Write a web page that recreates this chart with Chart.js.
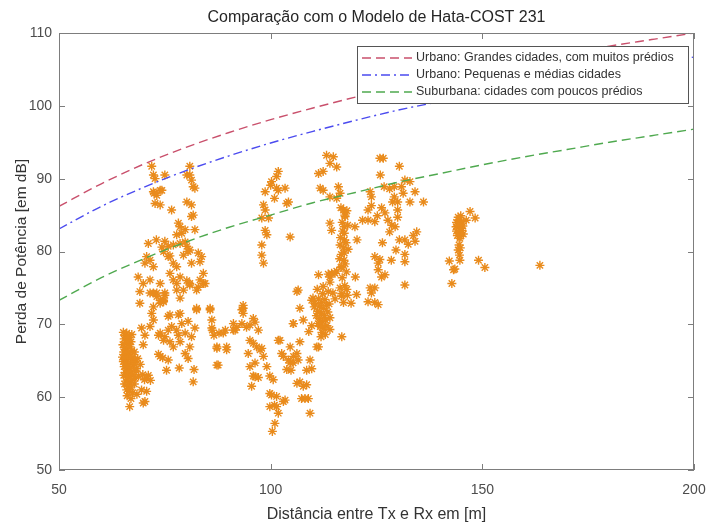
<!DOCTYPE html>
<html>
<head>
<meta charset="utf-8">
<script src="https://cdn.jsdelivr.net/npm/chart.js@4.4.1/dist/chart.umd.min.js"></script>
<style>
html,body{margin:0;padding:0;background:#fff;}
#wrap{width:706px;height:524px;position:relative;}
</style>
</head>
<body>
<div id="wrap"><canvas id="c" width="706" height="524"></canvas></div>
<script>
// ---- data ----
const xTicks = [50, 100, 150, 200];
const yTicks = [50, 60, 70, 80, 90, 100, 110];

const distModelo     = [50, 60, 70, 80, 90, 100, 110, 120, 130, 140, 150, 160, 170, 180, 190, 200];
const urbanoGrandes  = [86.2, 89.3, 92.0, 94.3, 96.3, 98.1, 99.7, 101.2, 102.6, 103.9, 105.0, 106.2, 107.2, 108.2, 109.1, 110.0];
const urbanoPequenas = [83.1, 86.2, 88.8, 91.1, 93.1, 94.9, 96.5, 98.0, 99.4, 100.6, 101.8, 102.9, 103.9, 104.9, 105.8, 106.7];
const suburbana      = [73.3, 76.4, 79.0, 81.3, 83.3, 85.0, 86.7, 88.1, 89.5, 90.7, 91.9, 93.0, 94.0, 95.0, 95.9, 96.8];

const labels = [
  'Urbano: Grandes cidades, com muitos prédios',
  'Urbano: Pequenas e médias cidades',
  'Suburbana: cidades com poucos prédios'
];

// measured points [distance m, loss dB]
const medidas = [
  // dense strip near 65-70 m
  [65.2,68.9],[65.6,68.5],[66.0,68.8],[65.4,68.0],[66.3,67.9],[65.8,67.5],[65.1,67.2],[66.5,67.3],[67.0,67.6],[65.5,66.8],
  [66.1,66.6],[66.8,66.9],[65.3,66.2],[65.9,65.9],[66.4,66.1],[67.2,66.4],[65.6,65.4],[66.2,65.2],[66.9,65.6],[65.2,64.9],
  [65.8,64.7],[66.5,64.5],[67.3,64.9],[65.4,64.2],[66.0,63.9],[66.7,64.0],[67.6,64.3],[65.7,63.4],[66.3,63.3],[67.0,63.5],
  [65.3,63.0],[66.0,62.7],[66.8,62.8],[67.5,63.1],[68.2,63.6],[65.8,62.2],[66.5,62.0],[67.2,62.3],[68.0,62.6],[68.8,62.9],
  [66.2,61.5],[67.0,61.4],[67.8,61.8],[66.6,60.8],[67.4,60.6],[66.1,60.2],[67.0,59.8],[66.7,58.7],[69.9,59.2],[68.4,60.4],
  [69.5,61.0],[66.0,61.0],[65.5,61.8],[67.5,65.5],[68.0,64.9],[68.6,65.3],[67.8,66.2],[66.6,68.2],[67.2,68.6],[65.0,65.5],
  [68.3,63.9],[69.2,64.5],[69.8,63.1],[70.2,62.4],[70.7,62.6],[70.7,60.8],[70.3,59.4],[71.1,63.0],[71.6,62.3],
  // upper-left mass 68-86 m
  [71.9,91.7],[72.3,90.5],[72.7,90.0],[75.0,90.5],[72.3,88.2],[73.1,87.7],[73.9,88.4],[72.7,86.6],[73.9,86.4],[76.6,85.7],
  [80.2,90.5],[80.9,90.5],[81.3,89.8],[81.7,88.9],[82.1,88.7],[80.9,91.7],[80.2,86.8],[81.3,86.4],[81.7,85.0],[81.3,84.8],
  [82.1,83.0],[78.2,83.9],[78.6,83.4],[79.8,83.0],[77.8,82.3],[79.0,82.5],[71.1,81.1],[70.7,79.3],[71.5,78.8],[70.3,78.4],
  [75.0,81.4],[75.8,80.7],[77.0,80.9],[78.6,81.1],[80.2,80.7],[80.9,80.2],[74.7,80.0],[75.8,79.3],[77.0,78.4],[77.8,77.9],
  [79.4,79.5],[81.3,78.4],[82.9,79.8],[83.7,79.3],[84.1,77.0],[82.9,75.1],[84.1,75.6],[68.7,76.5],[69.9,75.6],[69.1,74.5],
  [69.1,72.9],[71.5,76.1],[73.1,74.3],[73.9,73.3],[74.7,73.1],[71.9,71.5],[75.8,71.1],[78.2,71.3],[79.4,74.7],[80.9,75.6],
  [82.5,74.7],[82.5,72.2],[85.7,72.2],[93.5,72.2],[73.0,81.6],[76.2,77.0],[78.6,76.5],[72.3,77.9],[76.2,79.4],[83.3,78.6],
  [73.9,75.6],[77.8,75.6],[80.5,80.0],[79.8,81.3],[74.3,80.6],[74.3,88.4],[72.5,88.0],
  // middle band 69-92 m
  [69.9,67.2],[69.5,69.5],[73.5,68.5],[75.0,68.3],[73.9,65.6],[73.5,65.9],[74.5,65.4],[75.8,65.1],[75.4,63.7],[78.4,64.0],
  [81.9,63.8],[81.7,62.1],[87.3,64.4],[76.2,71.3],[72.3,74.3],[75.0,74.0],[77.0,76.1],[80.2,76.0],[83.3,76.1],[85.7,72.0],
  [86.1,70.6],[86.1,69.5],[88.8,68.8],[91.6,69.2],[87.3,66.7],[89.6,66.5],[87.6,64.4],[75.8,69.2],[76.6,69.7],[77.8,69.2],
  [79.0,70.1],[78.6,71.5],[80.5,70.4],[79.8,68.8],[81.3,68.3],[80.9,66.9],[79.8,66.0],[77.0,66.9],[78.6,67.6],[72.3,70.6],
  [71.5,69.7],[73.9,68.8],[74.7,67.8],[76.2,67.6],[78.2,68.5],[82.1,69.5],[82.5,72.0],[80.5,65.3],[70.3,68.5],[71.5,74.3],
  [73.1,73.8],[74.7,73.3],[73.9,72.9],[75.0,74.3],[72.3,72.4],[77.8,74.7],[80.9,75.4],[84.5,75.6],[78.6,73.6],
  // valley 86-110 m
  [86.2,69.2],[86.6,68.5],[87.8,68.8],[89.3,69.2],[91.2,69.2],[92.0,69.6],[93.2,70.1],[93.2,72.0],[93.5,71.5],[94.3,69.6],
  [95.1,69.9],[96.3,70.3],[97.1,69.2],[95.1,67.8],[95.9,67.4],[96.7,66.9],[97.5,66.5],[98.3,65.6],[99.1,64.2],[99.8,62.9],
  [100.6,62.4],[96.3,64.7],[95.1,64.2],[95.9,62.9],[97.1,62.7],[95.5,61.5],[102.2,67.8],[103.0,65.6],[104.6,66.9],[105.4,65.6],
  [106.2,66.0],[106.2,61.9],[103.8,63.8],[104.6,64.7],[99.8,60.5],[101.4,60.1],[103.0,59.4],[103.4,59.6],[99.8,58.7],[101.4,58.7],
  [101.8,57.8],[101.0,56.4],[100.4,55.3],[87.3,66.9],[89.6,66.9],[91.2,70.1],[105.4,70.1],[106.5,74.7],
  [93.5,72.6],[95.9,70.8],[94.7,66.0],[97.9,66.7],[96.3,62.8],
  [101.8,67.8],[102.6,66.0],[104.2,65.1],[105.3,64.7],[104.8,63.7],[106.5,65.1],[106.9,67.6],[108.5,63.7],[109.7,63.9],[109.3,65.1],
  [106.9,62.1],[107.7,61.5],[108.5,61.7],[107.3,59.8],[108.1,59.8],[108.9,59.8],[109.3,57.8],[100.2,60.3],[100.9,58.9],
  // column near 111-113 m
  [111.3,73.5],[112.0,73.0],[112.8,73.4],[111.6,72.5],[112.4,72.2],[113.2,72.6],[111.1,71.8],[111.9,71.5],[112.7,71.2],[113.5,71.7],
  [111.5,70.8],[112.2,70.4],[113.0,70.6],[111.8,69.9],[112.6,69.5],[113.3,69.8],[111.2,70.1],[112.1,68.9],[112.9,68.6],[110.4,72.9],
  [110.8,71.2],[114.0,70.9],[113.8,72.8],[110.0,73.6],[112.3,74.2],[111.0,74.8],[113.6,74.5],
  [111.3,76.8],[113.6,76.9],[115.6,77.3],[114.4,77.0],[106.2,74.5],[109.7,73.3],[110.3,72.4],[112.4,75.2],[114.0,75.8],
  [114.7,74.3],[116.4,75.0],[118.0,74.8],[115.2,73.5],[116.8,73.9],[106.9,72.2],[105.3,70.1],[107.7,70.6],[109.7,69.8],[111.7,69.7],
  [114.0,69.3],[111.9,68.3],[110.9,66.9],[116.8,68.3],[109.0,69.0],[111.3,66.9],
  // group near 97-105 m, 78-91 dB
  [101.8,91.0],[101.4,90.3],[100.2,89.6],[100.0,89.1],[98.7,88.2],[101.4,88.7],[101.8,88.4],[103.4,88.7],[100.9,87.3],[103.8,86.6],
  [98.3,86.4],[98.7,85.7],[99.5,84.6],[97.9,84.6],[98.7,82.9],[99.1,82.3],[104.6,82.0],[97.9,80.9],[97.9,79.5],[98.3,78.4],[104.2,86.8],
  // group near 111-118 m, 76-93 dB
  [113.2,93.2],[114.8,93.0],[114.0,92.1],[115.6,91.6],[111.3,90.7],[112.4,91.0],[111.7,88.7],[112.4,88.4],[116.0,88.9],[116.4,88.0],
  [114.0,87.5],[115.6,87.3],[117.2,85.7],[117.6,84.8],[117.4,83.4],[114.0,83.9],[114.4,82.9],[117.4,82.5],[117.4,81.6],[116.4,80.9],
  [117.2,80.5],[117.4,79.8],[116.8,77.9],[117.6,78.3],[115.2,77.0],[114.0,76.5],
  // group 116-137 m
  [125.8,92.8],[126.6,92.8],[130.4,91.7],[125.9,90.5],[131.7,89.8],[132.9,89.6],[130.9,88.9],[129.2,88.9],[128.1,88.6],[126.8,88.9],
  [123.5,88.2],[134.1,88.2],[131.3,88.0],[129.2,87.5],[130.0,86.8],[136.1,86.8],[132.9,86.8],[128.8,86.8],[123.8,87.5],[123.8,86.3],
  [123.0,85.7],[126.2,86.0],[127.0,85.3],[130.0,85.7],[125.2,84.9],[123.0,84.3],[121.7,84.3],[119.9,83.4],[124.6,84.1],[127.7,84.3],
  [130.0,84.7],[128.6,83.6],[129.4,83.4],
  [116.6,86.0],[117.5,85.0],[116.9,84.0],[118.2,83.6],[117.0,82.8],[116.5,81.9],[117.8,81.2],[118.3,80.3],[116.7,79.6],[117.3,78.8],
  [116.6,77.8],[117.9,77.2],[116.9,76.4],[117.5,75.3],[116.8,74.2],[118.1,74.0],[117.2,73.0],[119.0,72.9],[116.3,79.0],[118.0,85.6],
  [134.5,82.7],[133.7,82.2],[128.1,82.7],[120.4,81.6],[126.4,81.2],[130.4,81.6],[131.7,81.6],[132.5,81.0],[134.1,81.4],[129.6,80.2],
  [131.7,79.6],[124.6,79.3],[125.8,78.9],[125.4,78.4],[128.5,78.8],[131.7,78.6],[125.4,77.5],[126.2,76.5],[127.0,76.8],[120.0,76.5],
  [131.7,75.4],[124.6,75.0],[123.5,75.0],[123.8,74.3],[123.0,73.1],[124.6,73.0],[125.4,72.7],[120.3,74.1],
  // group near 142-151 m
  [143.9,84.0],[144.3,84.3],[144.7,83.9],[145.1,84.1],[143.8,83.4],[144.4,83.6],[145.0,83.2],[145.4,83.5],[143.9,82.8],[144.5,82.6],
  [145.2,82.9],[144.1,82.2],[144.8,82.1],[145.5,82.4],[144.3,84.7],[144.9,84.9],
  [147.1,85.5],[148.3,84.6],[146.2,84.3],[144.7,81.8],[144.5,80.9],[144.3,80.2],[144.8,80.5],[144.6,79.5],[144.7,78.8],[142.2,78.7],
  [143.2,77.5],[143.5,77.6],[149.1,78.8],[150.6,77.8],[142.8,75.6],[163.6,78.1]
];

// ---- styles ----
const F = "'Liberation Sans', Arial, Helvetica, sans-serif";
const lineStyles = [
  {color:'#c9506c', dash:[9,5]},
  {color:'#4b4bef', dash:[9,4,2,4]},
  {color:'#4fa94f', dash:[9,5]}
];

const curveSeries = [urbanoGrandes, urbanoPequenas, suburbana];

const lineDatasets = curveSeries.map((vals, k) => ({
  label: labels[k],
  data: distModelo.map((d, i) => ({x: d, y: vals[i]})),
  showLine: true,
  borderColor: lineStyles[k].color,
  borderWidth: 1.4,
  borderDash: lineStyles[k].dash,
  pointRadius: 0,
  cubicInterpolationMode: 'monotone',
  fill: false
}));

const scatterDataset = {
  label: 'Medidas',
  data: medidas.map(([x, y]) => ({x, y})),
  showLine: false,
  pointStyle: 'star',
  pointRadius: 4.5,
  pointBorderWidth: 1.4,
  pointBorderColor: '#e98b1c',
  pointBackgroundColor: '#e98b1c'
};

const framePlugin = {
  id: 'frame',
  afterDatasetsDraw(chart) {
    const {ctx, chartArea: a, scales: {x, y}} = chart;
    ctx.save();
    ctx.strokeStyle = '#7d7d7d';
    ctx.lineWidth = 1;
    ctx.strokeRect(Math.round(a.left) + 0.5, Math.round(a.top) + 0.5,
                   Math.round(a.right - a.left) - 1, Math.round(a.bottom - a.top) - 1);
    const tl = 6;
    ctx.beginPath();
    xTicks.forEach(v => {
      const p = Math.round(x.getPixelForValue(v)) + 0.5;
      ctx.moveTo(p, a.bottom); ctx.lineTo(p, a.bottom - tl);
      ctx.moveTo(p, a.top); ctx.lineTo(p, a.top + tl);
    });
    yTicks.forEach(v => {
      const p = Math.round(y.getPixelForValue(v)) + 0.5;
      ctx.moveTo(a.left, p); ctx.lineTo(a.left + tl, p);
      ctx.moveTo(a.right, p); ctx.lineTo(a.right - tl, p);
    });
    ctx.stroke();
    ctx.restore();
  }
};

const legendPlugin = {
  id: 'boxLegend',
  afterDraw(chart) {
    const {ctx} = chart;
    const bx = 357, by = 46, bw = 331, bh = 57;
    ctx.save();
    ctx.fillStyle = '#ffffff';
    ctx.fillRect(bx, by, bw, bh);
    ctx.strokeStyle = '#555';
    ctx.lineWidth = 1;
    ctx.strokeRect(bx + 0.5, by + 0.5, bw, bh);
    ctx.font = '12.5px ' + F;
    ctx.textBaseline = 'middle';
    ctx.textAlign = 'left';
    lineDatasets.forEach((ds, i) => {
      const yy = by + 12 + i * 17;
      ctx.strokeStyle = ds.borderColor;
      ctx.lineWidth = 1.4;
      ctx.setLineDash(ds.borderDash);
      ctx.beginPath();
      ctx.moveTo(bx + 5, yy); ctx.lineTo(bx + 55, yy);
      ctx.stroke();
      ctx.setLineDash([]);
      ctx.fillStyle = '#333';
      ctx.fillText(ds.label, bx + 59, yy);
    });
    ctx.restore();
  }
};

new Chart(document.getElementById('c'), {
  type: 'scatter',
  data: { datasets: [...lineDatasets, scatterDataset] },
  options: {
    responsive: false,
    animation: false,
    devicePixelRatio: 1,
    layout: { padding: { left: 0, right: 12, top: 0, bottom: 0 } },
    plugins: {
      legend: { display: false },
      tooltip: { enabled: false },
      title: {
        display: true,
        fullSize: false,
        text: 'Comparação com o Modelo de Hata-COST 231',
        color: '#262626',
        font: { family: F, size: 16, weight: 'normal' },
        padding: { top: 8, bottom: 5.8 }
      }
    },
    scales: {
      x: {
        type: 'linear', min: 50, max: 200,
        afterBuildTicks: s => { s.ticks = xTicks.map(v => ({value: v})); },
        afterFit: s => { s.height = 54; s.paddingLeft = 0; s.paddingRight = 0; },
        grid: { display: false, drawTicks: false },
        border: { display: false },
        ticks: { color: '#4d4d4d', font: { family: F, size: 14 }, padding: 12, maxRotation: 0, autoSkip: false },
        title: { display: true, text: 'Distância entre Tx e Rx em [m]', color: '#333',
                 font: { family: F, size: 16 }, padding: { top: 0, bottom: 0 } }
      },
      y: {
        type: 'linear', min: 50, max: 110,
        afterBuildTicks: s => { s.ticks = yTicks.map(v => ({value: v})); },
        afterFit: s => { s.width = 59; s.paddingTop = 0; s.paddingBottom = 0; },
        grid: { display: false, drawTicks: false },
        border: { display: false },
        ticks: { color: '#4d4d4d', font: { family: F, size: 14 }, padding: 7, autoSkip: false },
        title: { display: true, text: 'Perda de Potência [em dB]', color: '#333',
                 font: { family: F, size: 15.5 }, padding: { top: 12, bottom: 0 } }
      }
    }
  },
  plugins: [framePlugin, legendPlugin]
});
</script>
</body>
</html>
